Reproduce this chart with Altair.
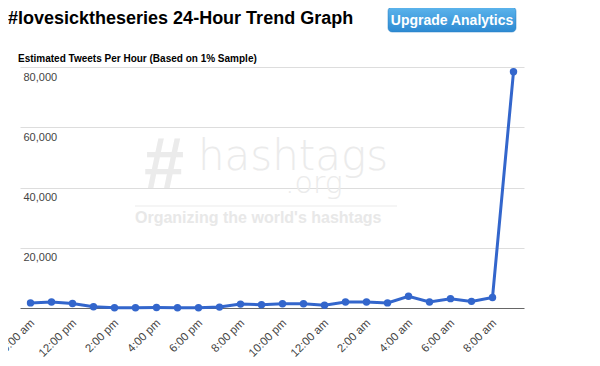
import altair as alt
import pandas as pd

# ---- data ----
hours = ["10:00 am", "11:00 am", "12:00 pm", "1:00 pm", "2:00 pm", "3:00 pm",
         "4:00 pm", "5:00 pm", "6:00 pm", "7:00 pm", "8:00 pm", "9:00 pm",
         "10:00 pm", "11:00 pm", "12:00 am", "1:00 am", "2:00 am", "3:00 am",
         "4:00 am", "5:00 am", "6:00 am", "7:00 am", "8:00 am", "9:00 am"]
tweets = [1700, 2000, 1500, 400, 100, 100, 150, 100, 100, 300, 1300, 1100,
          1400, 1400, 900, 2000, 2000, 1700, 3900, 2000, 3100, 2200, 3500, 78400]
y_ticks = [20000, 40000, 60000, 80000]
x_tick_labels = hours[0::2]

TITLE = "#lovesicktheseries 24-Hour Trend Graph"
SUBTITLE = "Estimated Tweets Per Hour (Based on 1% Sample)"
BUTTON = "Upgrade Analytics"
WM_HASH = "#"
WM_NAME = "hashtags"
WM_ORG = ".org"
WM_TAG = "Organizing the world's hashtags"

FONT = "Liberation Sans"
BLUE = "#3366cc"

df = pd.DataFrame({"hour": hours, "tweets": tweets})

x_enc = alt.X("hour:O", sort=hours,
              scale=alt.Scale(type="point", padding=0.5),
              axis=alt.Axis(values=x_tick_labels, labelAngle=-45, labelAlign="right",
                            labelBaseline="middle", labelPadding=13, labelOffset=2,
                            ticks=False, tickSize=0, domainColor="#666666", domainWidth=1,
                            labelColor="#444444", labelFontSize=11.5, labelFont=FONT,
                            grid=False, title=None))
y_enc = alt.Y("tweets:Q", scale=alt.Scale(domain=[0, 80000], nice=False),
              axis=alt.Axis(values=y_ticks, format=",.0f", labelAlign="left",
                            labelBaseline="top", labelPadding=-3, labelOffset=4,
                            ticks=False, tickSize=0, domain=False, grid=True,
                            gridColor="#dddddd", labelColor="#444444",
                            labelFontSize=11, labelFont=FONT, title=None))

base = alt.Chart(df)
line = base.mark_line(color=BLUE, strokeWidth=3).encode(x=x_enc, y=y_enc)
pts = base.mark_point(filled=True, color=BLUE, size=55, opacity=1).encode(x=x_enc, y=y_enc)


def text_layer(txt, x, y, **kw):
    return alt.Chart(pd.DataFrame({"t": [txt]})).mark_text(**kw).encode(
        text="t:N", x=alt.value(x), y=alt.value(y))


wm_color = "#ebebeb"
wm_hash = text_layer(WM_HASH, 143, 121, font=FONT, fontSize=72, fontWeight="bold",
                     fontStyle="italic", color=wm_color, align="center", baseline="alphabetic")
wm_name = text_layer(WM_NAME, 178, 103, font="DejaVu Sans", fontSize=42, fontWeight=200,
                     color=wm_color, align="left", baseline="alphabetic")
wm_org = text_layer(WM_ORG, 265, 126, font="DejaVu Sans", fontSize=30, fontWeight=200,
                    color=wm_color, align="left", baseline="alphabetic")
wm_rule = alt.Chart(pd.DataFrame({"t": [0]})).mark_rule(color=wm_color, strokeWidth=1).encode(
    x=alt.value(115), x2=alt.value(377), y=alt.value(139))
wm_tag = text_layer(WM_TAG, 115, 156, font=FONT, fontSize=16, fontWeight="bold",
                    color="#e8e8e8", align="left", baseline="alphabetic")

title = text_layer(TITLE, -12, -43, font=FONT, fontSize=18, fontWeight="bold",
                   color="#000000", align="left", baseline="alphabetic")
subtitle = text_layer(SUBTITLE, -2, -5, font=FONT, fontSize=10, fontWeight="bold",
                      color="#000000", align="left", baseline="alphabetic")
button_rect = alt.Chart(pd.DataFrame({"t": [0]})).mark_rect(
    cornerRadius=4,
    fill=alt.LinearGradient(gradient="linear", x1=0, x2=0, y1=0, y2=1,
                            stops=[alt.GradientStop(color="#5cb4ec", offset=0),
                                   alt.GradientStop(color="#2d8ad2", offset=1)]),
    stroke="#2a7fc0", strokeWidth=0.5).encode(
    x=alt.value(368), x2=alt.value(496), y=alt.value(-60), y2=alt.value(-35))
button_text = text_layer(BUTTON, 432, -42, font=FONT, fontSize=14, fontWeight="bold",
                         color="#ffffff", align="center", baseline="alphabetic")

chart = alt.layer(
    wm_hash, wm_name, wm_org, wm_rule, wm_tag,
    line, pts,
    title, subtitle, button_rect, button_text,
).properties(
    width=504, height=241,
    autosize=alt.AutoSizeParams(type="none"),
    padding={"left": 12, "top": 59, "right": 68, "bottom": 50},
    background="white",
).configure_view(stroke=None)

chart.save("out.html", embed_options={"renderer": "svg", "actions": False})
